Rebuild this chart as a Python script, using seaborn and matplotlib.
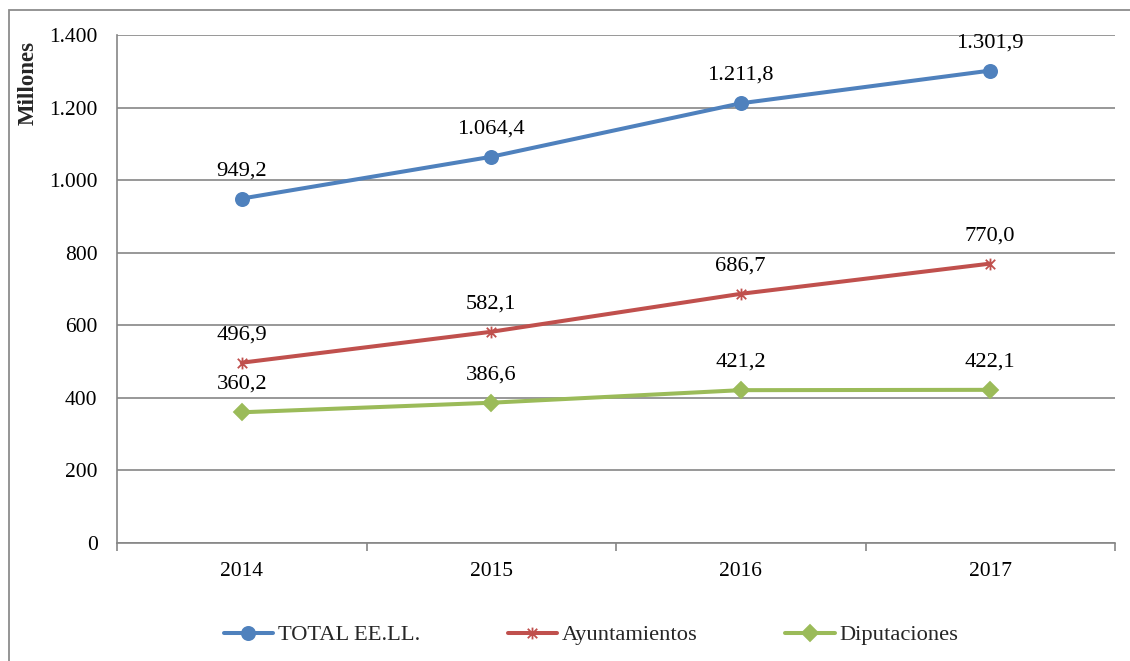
import matplotlib
matplotlib.use("Agg")
import matplotlib.pyplot as plt
import seaborn as sns
from matplotlib.path import Path
from matplotlib.patches import Rectangle
from matplotlib.ticker import FixedLocator, FuncFormatter

years = ["2014", "2015", "2016", "2017"]
total_eell = [949.2, 1064.4, 1211.8, 1301.9]
ayuntamientos = [496.9, 582.1, 686.7, 770.0]
diputaciones = [360.2, 386.6, 421.2, 422.1]
series_names = ["TOTAL EE.LL.", "Ayuntamientos", "Diputaciones"]
y_ticks = [0, 200, 400, 600, 800, 1000, 1200, 1400]

sns.set_theme(style="white")
plt.rcParams["font.family"] = ["Liberation Serif", "DejaVu Serif"]

def es_fmt(v, decimals=1):
    s = f"{v:,.{decimals}f}"
    return s.replace(",", "X").replace(".", ",").replace("X", ".")

asterisk = Path(
    [(-1, -1), (1, 1), (-1, 1), (1, -1), (0, -1.25), (0, 1.25)],
    [Path.MOVETO, Path.LINETO, Path.MOVETO, Path.LINETO, Path.MOVETO, Path.LINETO],
)

colors = ["#4F81BD", "#C0504D", "#9BBB59"]
markers = ["o", asterisk, "D"]
msizes = [9.5, 8.5, 8]
data = [total_eell, ayuntamientos, diputaciones]

fig = plt.figure(figsize=(11.3, 6.61), dpi=100)
ax = fig.add_axes([117 / 1130, 1 - 543 / 661, (1115 - 117) / 1130, (543 - 35) / 661])

fs_lab = 16.2
fs_tick = 15.5
for name, vals, c, m, ms in zip(series_names, data, colors, markers, msizes):
    sns.lineplot(x=years, y=vals, ax=ax, color=c, linewidth=2.9, marker=m,
                 markersize=ms, markeredgecolor=c, markerfacecolor=c,
                 markeredgewidth=1.3, label=name)
    for yr, v in zip(years, vals):
        ax.annotate(es_fmt(v), xy=(yr, v), xytext=(0, 20), textcoords="offset points",
                    ha="center", va="center", fontsize=fs_lab, color="black")

ax.set_xlim(-0.5, 3.5)
ax.set_ylim(0, 1400)
ax.set_yticks(y_ticks)
ax.yaxis.set_major_formatter(FuncFormatter(lambda v, p: es_fmt(v, 0)))
ax.grid(axis="y", color="#868686", linewidth=1.2)
ax.grid(axis="x", visible=False)
ax.set_axisbelow(True)
for s in ["top", "right"]:
    ax.spines[s].set_visible(False)
for s in ["left", "bottom"]:
    ax.spines[s].set_color("#868686")
    ax.spines[s].set_linewidth(1.2)
ax.xaxis.set_minor_locator(FixedLocator([-0.5, 0.5, 1.5, 2.5, 3.5]))
ax.tick_params(axis="x", which="major", length=0, pad=14, labelsize=fs_tick, colors="black")
ax.tick_params(axis="x", which="minor", length=6, width=1.2, color="#868686", direction="out", bottom=True)
ax.tick_params(axis="y", which="major", length=0, pad=14, labelsize=fs_tick, colors="black")
ax.set_xlabel("")
ax.set_ylabel("")

fig.text(28 / 1130, 1 - 83 / 661, "Millones", rotation=90, ha="center", va="center",
         fontsize=16.5, fontweight="bold")

ax.get_legend().remove()
handles, labels = ax.get_legend_handles_labels()
fig.legend(handles, labels, loc="center", bbox_to_anchor=(591 / 1130, 1 - 635 / 661),
           ncol=3, frameon=False, fontsize=fs_lab, handlelength=2.2, handletextpad=0.2,
           columnspacing=3.9, borderpad=0, borderaxespad=0)

fig.patches.append(Rectangle((9 / 1130, -0.05), 1.1, 1 - 10 / 661 + 0.05,
                             transform=fig.transFigure, fill=False,
                             edgecolor="#8c8c8c", linewidth=1.3))

fig.savefig("out.png", dpi=100)
